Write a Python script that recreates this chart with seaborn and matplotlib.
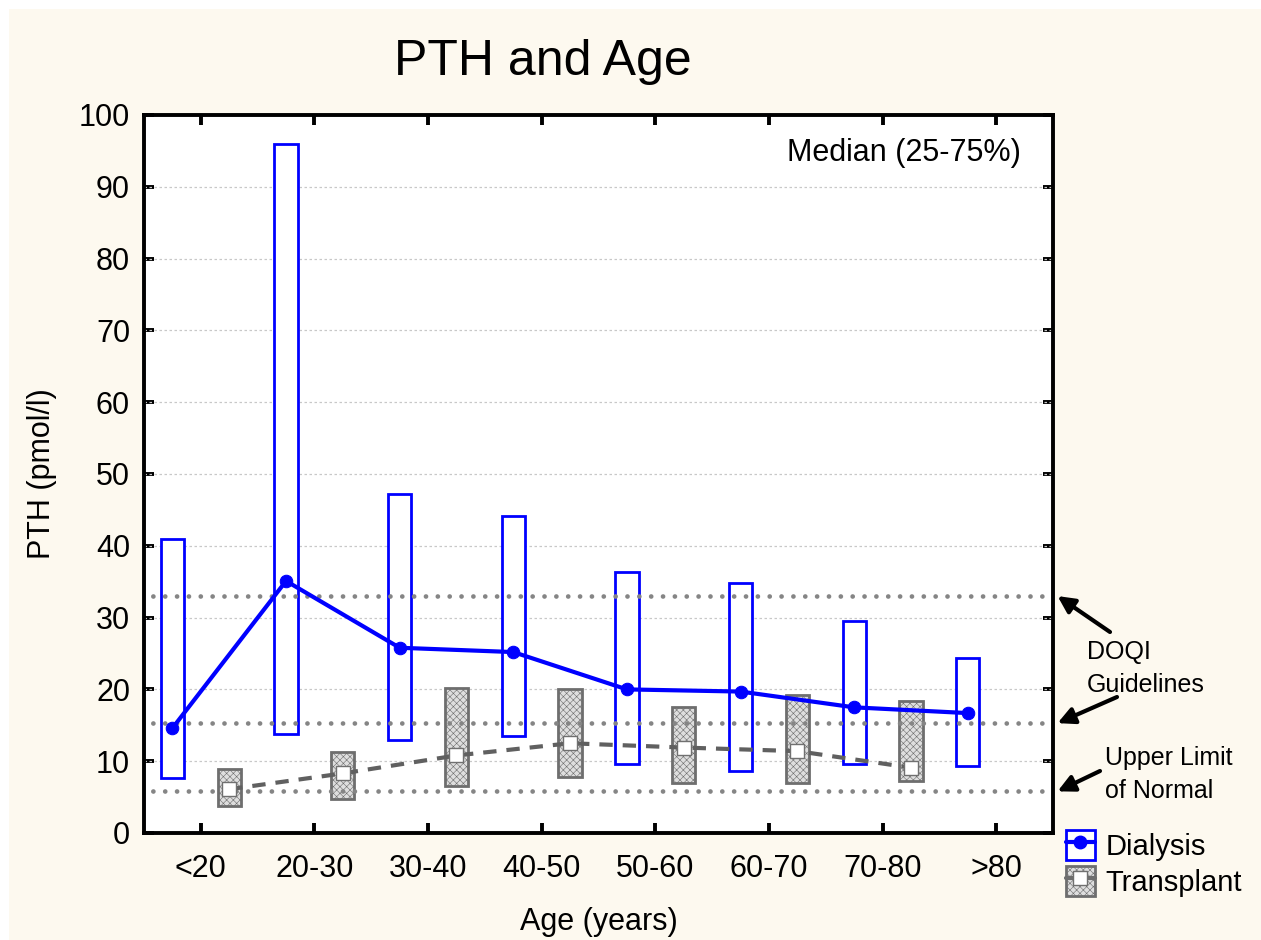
import numpy as np
import pandas as pd
import seaborn as sns
import matplotlib
matplotlib.use("Agg")
import matplotlib.pyplot as plt
from matplotlib.patches import Rectangle
from matplotlib.lines import Line2D
from matplotlib.legend_handler import HandlerTuple

# Age groups
age_groups = ["<20", "20-30", "30-40", "40-50", "50-60", "60-70", "70-80", ">80"]

# Dialysis: median with 25th / 75th percentiles (pmol/l)
dial_median = [14.6, 35.1, 25.8, 25.2, 20.0, 19.7, 17.5, 16.7]
dial_q25 = [7.7, 13.8, 13.0, 13.5, 9.6, 8.6, 9.6, 9.4]
dial_q75 = [41.0, 96.0, 47.2, 44.2, 36.3, 34.8, 29.5, 24.4]

# Transplant: median with 25th / 75th percentiles (no patients >80)
tx_groups = ["<20", "20-30", "30-40", "40-50", "50-60", "60-70", "70-80"]
tx_median = [6.1, 8.3, 10.8, 12.5, 11.9, 11.4, 9.1]
tx_q25 = [3.7, 4.8, 6.6, 7.8, 7.0, 7.0, 7.3]
tx_q75 = [8.9, 11.3, 20.2, 20.1, 17.5, 19.2, 18.4]

# Reference levels
doqi_upper = 33.0
doqi_lower = 15.3
normal_upper = 5.8

y_ticks = [0, 10, 20, 30, 40, 50, 60, 70, 80, 90, 100]

sns.set_style("white")
plt.rcParams["font.family"] = ["Liberation Sans", "DejaVu Sans"]
plt.rcParams.update({"text.color": "black", "axes.labelcolor": "black",
                     "xtick.color": "black", "ytick.color": "black",
                     "hatch.color": "#c9c9c9", "hatch.linewidth": 0.4})

W, H = 1261, 940
fig = plt.figure(figsize=(W / 100, H / 100), dpi=100, facecolor="white")
fig.patches.append(Rectangle((9 / W, 0), 1, (H - 9) / H, transform=fig.transFigure,
                             facecolor="#fdf9ef", edgecolor="none", zorder=-10))

ax = fig.add_axes([144 / W, (H - 833) / H, (1053 - 144) / W, (833 - 115) / H])
ax.set_facecolor("white")

centers = {g: i + 0.5 for i, g in enumerate(age_groups)}
dial = pd.DataFrame({"group": age_groups, "median": dial_median, "q25": dial_q25, "q75": dial_q75})
dial["x"] = dial["group"].map(centers) - 0.25
tx = pd.DataFrame({"group": tx_groups, "median": tx_median, "q25": tx_q25, "q75": tx_q75})
tx["x"] = tx["group"].map(centers) + 0.25

box_w = 0.205
tx_face = "#dedede"
tx_edge = "#6e6e6e"

# Interquartile boxes
ax.bar(dial["x"], dial["q75"] - dial["q25"], bottom=dial["q25"], width=box_w,
       facecolor="white", edgecolor="#0000ff", linewidth=2.0, zorder=3)
ax.bar(tx["x"], tx["q75"] - tx["q25"], bottom=tx["q25"], width=box_w,
       facecolor=tx_face, edgecolor=tx_edge, linewidth=2.0, hatch="xxxxx", zorder=3)

# Light dotted grid
for t in y_ticks[1:-1]:
    ax.axhline(t, color="#c8c8c8", lw=0.9, linestyle=(0, (2, 2)), zorder=1)

# Reference lines
for v in (doqi_upper, doqi_lower, normal_upper):
    ax.axhline(v, xmin=-0.003, xmax=0.988, color="#858585", lw=3.4,
               linestyle=(0, (0.01, 2.5)), dash_capstyle="round", zorder=3.5)

# Median lines
sns.lineplot(data=dial, x="x", y="median", ax=ax, color="#0000ff", lw=3.0,
             marker="o", markersize=9, markeredgecolor="#0000ff", zorder=5)
sns.lineplot(data=tx, x="x", y="median", ax=ax, color="#606060", lw=3.0,
             dashes=False, zorder=4)
ax.lines[-1].set_dashes((3.2, 2.4))
ax.plot(tx["x"], tx["median"], linestyle="none", marker="s", markersize=10,
        markerfacecolor="white", markeredgecolor="#707070", markeredgewidth=1.0, zorder=6)

ax.set_xlim(0, 8)
ax.set_ylim(0, 100)
ax.set_xticks([centers[g] for g in age_groups])
ax.set_xticklabels(age_groups)
ax.set_yticks(y_ticks)
ax.set_yticklabels([str(t) for t in y_ticks])
ax.grid(False)

for s in ax.spines.values():
    s.set_visible(True)
    s.set_color("black")
    s.set_linewidth(2.8)
ax.tick_params(axis="both", which="both", direction="in", length=7, width=2.8,
               top=True, right=True, bottom=True, left=True, labelsize=22, colors="black")
ax.tick_params(axis="x", pad=15)
ax.tick_params(axis="y", pad=10)

ax.set_xlabel("Age (years)", fontsize=22, labelpad=17)
ax.set_ylabel("PTH (pmol/l)", fontsize=22, labelpad=16)
fig.text(543 / W, 1 - 62 / H, "PTH and Age", ha="center", va="center", fontsize=36)
ax.text(0.965, 0.947, "Median (25-75%)", transform=ax.transAxes, ha="right", va="center",
        fontsize=22)

# Annotations for reference lines
fig.text(1087 / W, 1 - 652 / H, "DOQI", fontsize=18, va="center", ha="left")
fig.text(1087 / W, 1 - 685 / H, "Guidelines", fontsize=18, va="center", ha="left")
fig.text(1105 / W, 1 - 758 / H, "Upper Limit", fontsize=18, va="center", ha="left")
fig.text(1105 / W, 1 - 791 / H, "of Normal", fontsize=18, va="center", ha="left")
arrow_kw = dict(arrowstyle="-|>,head_length=1.0,head_width=0.5", color="black", lw=3.0,
                shrinkA=0, shrinkB=0)
for v, tail in ((doqi_upper, (1110, 632)), (doqi_lower, (1117, 697)), (normal_upper, (1100, 771))):
    ax.annotate("", xy=(8.04, v), xycoords="data",
                xytext=(tail[0], H - tail[1]), textcoords="figure pixels",
                arrowprops=arrow_kw, annotation_clip=False)

# Legend
h_dial = (Rectangle((0, 0), 1, 1, facecolor="white", edgecolor="#0000ff", lw=2.0),
          Line2D([], [], color="#0000ff", lw=3.0, marker="o", markersize=9))
h_tx = (Rectangle((0, 0), 1, 1, facecolor=tx_face, edgecolor=tx_edge, lw=2.0, hatch="xxxxx"),
        Line2D([], [], color=tx_edge, lw=3.0, marker="s", markersize=10,
               markerfacecolor="white", markeredgecolor="#707070"))
fig.legend([h_dial, h_tx], ["Dialysis", "Transplant"],
           handler_map={tuple: HandlerTuple(ndivide=1, pad=0)},
           loc="upper left", bbox_to_anchor=(1060 / W, 1 - 824 / H),
           frameon=False, fontsize=21, handlelength=1.0, handleheight=1.2,
           handletextpad=0.35, labelspacing=0.18, borderpad=0.2, borderaxespad=0)

fig.savefig("out.png", dpi=100, facecolor=fig.get_facecolor())
